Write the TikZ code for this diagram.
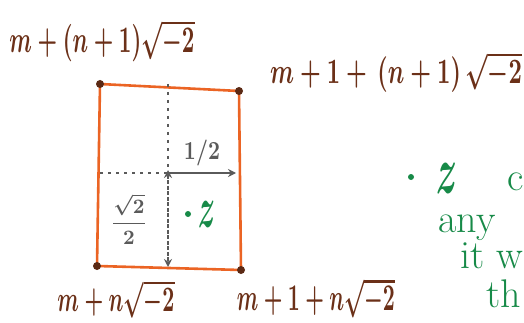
\documentclass[tikz,border=0pt]{standalone}
\usetikzlibrary{arrows.meta}
\definecolor{ink}{HTML}{6B3018}
\definecolor{rectc}{HTML}{EB6424}
\definecolor{pen}{HTML}{5A5A5A}
\definecolor{grn}{HTML}{178A48}
\tikzset{
  lbl/.style={text=ink, inner sep=0pt},
  corner/.style={circle, fill=ink!85!black, inner sep=0pt, minimum size=8pt},
  guide/.style={pen, line width=1.8pt, dash pattern=on 3pt off 5pt},
  meas/.style={pen, line width=1.6pt},
  note/.style={text=grn, inner sep=0pt, font=\fontsize{40}{42}\selectfont},
  gdot/.style={circle, fill=grn, inner sep=0pt, minimum size=6pt}
}
\begin{document}
\begin{tikzpicture}[x=1pt,y=-1pt]
\useasboundingbox (0,0) rectangle (524,323);
\clip (0,0) rectangle (524,323);
% corners
\coordinate (tl) at (100,84);
\coordinate (tr) at (239,91);
\coordinate (br) at (241,270);
\coordinate (bl) at (97,266);
\draw[rectc, line width=2.6pt, line join=round] (tl) -- (tr) -- (br) -- (bl) -- cycle;
\foreach \c in {tl,tr,br,bl} \node[corner] at (\c) {};
% guides
\coordinate (vt) at (168,84);
\coordinate (ctr) at (168,173);
\coordinate (vb) at (168,267);
\coordinate (hl) at (100,173);
\coordinate (hr) at (236,173);
\draw[guide] (vt) -- (ctr);
\draw[guide] (hl) -- (ctr);
\draw[meas, -{Stealth[length=8pt,width=8pt]}] (ctr) -- (hr);
\draw[meas, {Stealth[length=8pt,width=8pt]}-{Stealth[length=8pt,width=8pt]}, dash pattern=on 4pt off 1.5pt] ([yshift=3pt]ctr) -- (vb);
\node[text=pen, inner sep=0pt] (half) at (202,153) {\resizebox*{36pt}{26pt}{\boldmath$1/2$}};
\node[text=pen, inner sep=0pt] (r2) at (129,219) {\resizebox*{36pt}{50pt}{\boldmath$\displaystyle\frac{\sqrt{2}}{2}$}};
\node[gdot] (zdot) at (188,214) {};
\node[text=grn, inner sep=0pt] (zin) at (207,214) {\resizebox*{17pt}{26pt}{\boldmath$z$}};
% corner labels
\node[lbl] (ltl) at (102,41) {\resizebox*{185pt}{42pt}{\boldmath$m+(n+1)\sqrt{-2}$}};
\node[lbl] (ltr) at (396,72) {\resizebox*{252pt}{40pt}{\boldmath$m+1+\,(n+1)\,\sqrt{-2}$}};
\node[lbl] (lbl) at (116,299) {\resizebox*{117pt}{38pt}{\boldmath$m+n\sqrt{-2}$}};
\node[lbl] (lbr) at (316,298) {\resizebox*{158pt}{40pt}{\boldmath$m+1+n\sqrt{-2}$}};
% right-hand notes (cut off by the edge)
\node[gdot] (n1dot) at (411,177) {};
\node[text=grn, inner sep=0pt] (n1z) at (447,178) {\resizebox*{21pt}{30pt}{\boldmath$z$}};
\node[note, anchor=base west] (n1c) at (507,190) {c};
\node[note, anchor=base west] (n2) at (438,232) {any};
\node[note, anchor=base west] (n3) at (460,268) {it w};
\node[note, anchor=base west] (n4) at (486,307) {th};
\end{tikzpicture}
\end{document}
